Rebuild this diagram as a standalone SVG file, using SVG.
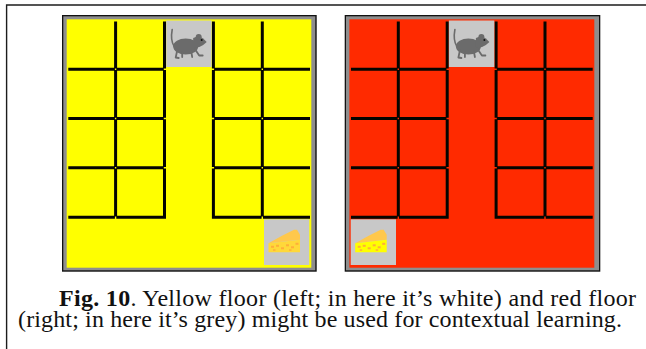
<svg xmlns="http://www.w3.org/2000/svg" xmlns:xlink="http://www.w3.org/1999/xlink" width="646" height="349" viewBox="0 0 646 349">
  <style>
    .frame { fill: none; stroke: #1c1c1c; stroke-width: 1.4; }
    .edge { fill: #111111; }
    .rim { fill: #8e8e8e; }
    .yellow { fill: #ffff00; }
    .red { fill: #ff2a00; }
    .walls { fill: none; stroke: #050500; stroke-width: 3; stroke-linecap: butt; }
    .tile { fill: #c8c8c8; }
    .mouse { fill: #6b6b6b; }
    .tail { fill: none; stroke: #6b6b6b; stroke-width: 1.6; stroke-linecap: round; }
    .leg { fill: none; stroke: #6b6b6b; stroke-width: 1.8; stroke-linecap: round; stroke-linejoin: round; }
    .rind { fill: #ffc84c; }
    .holes { fill: #ffae3a; }
    .face-warm { fill: #ffd83a; }
    .face-bright { fill: #ffff00; }
    .caption { font-family: 'Liberation Serif', 'Times New Roman', serif; font-size: 24px; fill: #111111; }
  </style>
  <defs>
    <!-- wall segments of the 5x5 floor, small gaps left at the joints -->
    <path id="walls" class="walls" d="
      M115.6 21.5 V68.5 M115.6 69.9 V117.8 M115.6 119.2 V167.1 M115.6 168.5 V216.6
      M164.5 21.5 V68.5 M164.5 69.9 V117.8 M164.5 119.2 V167.1 M164.5 168.5 V218.7
      M213.4 21.5 V68.5 M213.4 69.9 V117.8 M213.4 119.2 V167.1 M213.4 168.5 V218.7
      M262.3 21.5 V68.5 M262.3 69.9 V117.8 M262.3 119.2 V167.1 M262.3 168.5 V216.6
      M68.3 69.2 H114.9 M116.3 69.2 H163.8 M214.1 69.2 H261.6 M263.0 69.2 H310.0
      M68.3 118.5 H114.9 M116.3 118.5 H163.8 M214.1 118.5 H261.6 M263.0 118.5 H310.0
      M68.3 167.8 H114.9 M116.3 167.8 H163.8 M214.1 167.8 H261.6 M263.0 167.8 H310.0
      M68.3 217.3 H114.9 M116.3 217.3 H163.8 M214.1 217.3 H261.6 M263.0 217.3 H310.0"/>
    <!-- mouse sprite, drawn on a 45x46 tile -->
    <g id="mouse">
      <rect class="tile" x="0" y="0" width="45.4" height="46.5"/>
      <path class="tail" d="M8 26 Q4 20 6 9"/>
      <ellipse class="mouse" cx="19.5" cy="26" rx="12.5" ry="8"/>
      <path class="mouse" d="M27 17.5 Q33 15 37 18 L40.5 21.5 L37 24.5 Q32 28 27 27 Z"/>
      <circle class="mouse" cx="32.5" cy="16.5" r="3"/>
      <path class="leg" d="M11 30 L9.5 37 L12.5 37.5 M16 32 L16 36.5 M29 29 L33 35 L36.5 35 M25 31 L26 36.5"/>
      <circle fill="#111111" cx="35.5" cy="19.5" r="1"/>
    </g>
    <!-- cheese wedge tile and rind, face colour set per floor -->
    <g id="cheese-top">
      <rect class="tile" x="0" y="0" width="45.3" height="45.7"/>
      <polygon class="rind" points="4.5,24 18,16.5 30,10.5 33,10.5 36,15.5 36,20.5"/>
    </g>
    <g id="cheese-holes" class="holes">
      <rect x="7" y="26.5" width="3" height="2"/>
      <rect x="12" y="25.5" width="3" height="2"/>
      <rect x="17" y="28" width="3" height="2"/>
      <rect x="22" y="25" width="3" height="2"/>
      <rect x="27" y="27" width="3" height="2"/>
      <rect x="31.5" y="23.5" width="3" height="2"/>
      <rect x="9" y="30" width="2.5" height="1.5"/>
      <rect x="25" y="30" width="2.5" height="1.5"/>
    </g>
  </defs>

  <!-- outer border of the figure box -->
  <path id="figure-frame" class="frame" d="M6.6 349 V5 H646"/>

  <!-- yellow floor -->
  <g id="floor-yellow">
    <rect class="edge" x="62" y="15" width="254.7" height="256.7"/>
    <rect class="rim" x="63.3" y="16.3" width="252" height="254"/>
    <rect class="yellow" x="66.7" y="19.3" width="244.6" height="248.4"/>
    <use xlink:href="#walls" href="#walls"/>
    <g id="yellow-mouse" transform="translate(166.2 20.5)">
      <use xlink:href="#mouse" href="#mouse"/>
    </g>
    <g id="yellow-cheese" transform="translate(264 219.3)">
      <use xlink:href="#cheese-top" href="#cheese-top"/>
      <polygon class="face-warm" points="4.5,24 36,20.5 36,33 4.5,33"/>
      <use xlink:href="#cheese-holes" href="#cheese-holes"/>
    </g>
  </g>

  <!-- red floor -->
  <g id="floor-red" transform="translate(282.7 0)">
    <rect class="edge" x="62" y="15" width="255.6" height="256.7"/>
    <rect class="rim" x="63.3" y="16.3" width="253" height="254"/>
    <rect class="red" x="66.7" y="19.3" width="244.9" height="248.4"/>
    <use xlink:href="#walls" href="#walls"/>
    <g id="red-mouse" transform="translate(166.2 20.5)">
      <use xlink:href="#mouse" href="#mouse"/>
    </g>
    <g id="red-cheese" transform="translate(68 219.3)">
      <use xlink:href="#cheese-top" href="#cheese-top"/>
      <polygon class="face-bright" points="4.5,24 36,20.5 36,33 4.5,33"/>
      <use xlink:href="#cheese-holes" href="#cheese-holes"/>
    </g>
  </g>

  <!-- caption, two justified lines -->
  <g id="caption" class="caption">
    <text x="59" y="305.5" textLength="577" lengthAdjust="spacing"><tspan font-weight="bold">Fig. 10</tspan>. Yellow floor (left; in here it’s white) and red floor</text>
    <text x="18" y="326.5" textLength="604" lengthAdjust="spacing">(right; in here it’s grey) might be used for contextual learning.</text>
  </g>
</svg>
